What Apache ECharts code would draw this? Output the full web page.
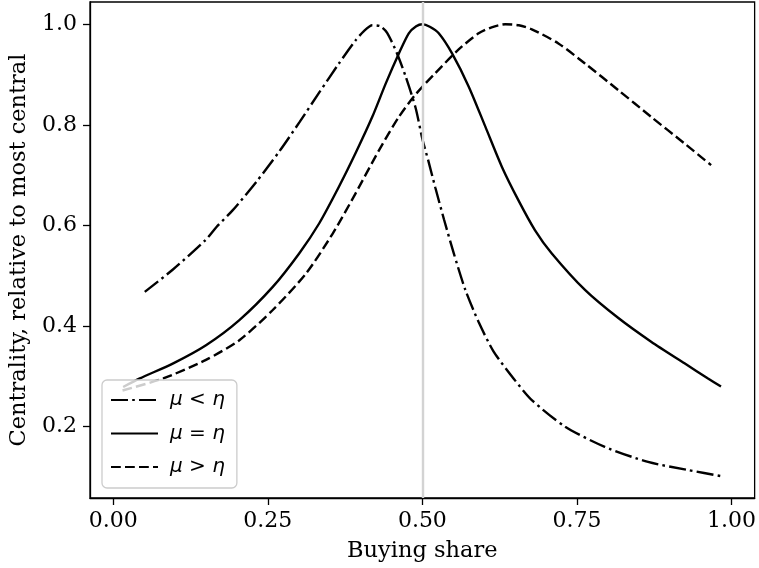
<!DOCTYPE html>
<html>
<head>
<meta charset="utf-8">
<script src="https://cdn.jsdelivr.net/npm/echarts@6/dist/echarts.min.js"></script>
<style>html,body{margin:0;padding:0;background:#fff;}#c{width:759px;height:568px;}</style>
</head>
<body>
<div id="c"></div>
<script>
// ---- data ----
const seriesNames = ['\u03bc < \u03b7', '\u03bc = \u03b7', '\u03bc > \u03b7'];

const lessX = [0.051,0.097,0.150,0.167,0.193,0.231,0.269,0.301,0.333,0.365,0.392,0.405,0.419,0.432,0.443,0.459,0.473,0.489,0.500,0.510,0.521,0.535,0.5507,0.5695,0.591,0.615,0.6474,0.677,0.731,0.795,0.865,0.929,0.987];
const lessY = [0.468,0.513,0.572,0.597,0.630,0.686,0.748,0.805,0.864,0.922,0.968,0.986,0.998,0.996,0.983,0.942,0.896,0.834,0.772,0.727,0.675,0.612,0.545,0.472,0.408,0.350,0.296,0.253,0.200,0.160,0.130,0.114,0.101];

const equalX = [0.016,0.043,0.097,0.150,0.204,0.258,0.301,0.333,0.365,0.392,0.419,0.441,0.462,0.478,0.490,0.500,0.512,0.5265,0.548,0.575,0.602,0.6285,0.655,0.682,0.709,0.763,0.817,0.870,0.924,0.962,0.983];
const equalY = [0.279,0.296,0.326,0.362,0.412,0.478,0.545,0.604,0.677,0.744,0.816,0.883,0.942,0.982,0.996,1.000,0.995,0.982,0.942,0.876,0.796,0.717,0.651,0.591,0.545,0.472,0.416,0.369,0.326,0.296,0.280];

const greaterX = [0.015,0.081,0.150,0.204,0.258,0.312,0.355,0.392,0.430,0.462,0.490,0.521,0.5587,0.591,0.612,0.634,0.656,0.677,0.720,0.763,0.817,0.870,0.924,0.967];
const greaterY = [0.272,0.296,0.333,0.372,0.432,0.505,0.584,0.664,0.750,0.816,0.862,0.903,0.950,0.982,0.994,1.000,0.998,0.990,0.962,0.922,0.869,0.816,0.763,0.720];

const xTicks = [0, 0.25, 0.5, 0.75, 1.0];
const yTicks = [0.2, 0.4, 0.6, 0.8, 1.0];
const dividerX = 0.5;

const xLabel = 'Buying share';
const yLabel = 'Centrality, relative to most central';

// ---- build ----
function pairs(xs, ys) { return xs.map((x, i) => [x, ys[i]]); }

const serif = 'DejaVu Serif';
const chart = echarts.init(document.getElementById('c'), null, {renderer: 'canvas'});

const lineCommon = {
  type: 'line', symbol: 'none', smooth: 0.25, silent: true, z: 3,
  emphasis: {disabled: true}
};

const axisLineStyle = {show: true, onZero: false, lineStyle: {color: '#000', width: 1.3}};

const option = {
  animation: false,
  backgroundColor: '#fff',
  grid: {left: 90, right: 2, top: 2, bottom: 70, show: true, borderColor: '#000', borderWidth: 1.3, backgroundColor: 'transparent'},
  xAxis: {
    type: 'value', min: -0.0376, max: 1.0374,
    name: xLabel, nameLocation: 'middle', nameGap: 42,
    nameTextStyle: {fontFamily: serif, fontSize: 22.5, color: '#000'},
    axisLine: axisLineStyle,
    splitLine: {show: false},
    axisTick: {show: true, length: 7, inside: false, lineStyle: {color: '#000', width: 1.3}, customValues: xTicks},
    axisLabel: {customValues: xTicks, margin: 12, fontFamily: serif, fontSize: 22, color: '#000',
      formatter: v => v.toFixed(2)}
  },
  yAxis: {
    type: 'value', min: 0.0583, max: 1.0443,
    name: yLabel, nameLocation: 'middle', nameGap: 56, nameRotate: 90,
    nameTextStyle: {fontFamily: serif, fontSize: 22.5, color: '#000'},
    axisLine: axisLineStyle,
    splitLine: {show: false},
    axisTick: {show: true, length: 7, inside: false, lineStyle: {color: '#000', width: 1.3}, customValues: yTicks},
    axisLabel: {customValues: yTicks, margin: 13, fontFamily: serif, fontSize: 22, color: '#000',
      formatter: v => v.toFixed(1)}
  },
  legend: {
    data: seriesNames,
    orient: 'vertical',
    left: 102, top: 380,
    padding: [10, 12, 11, 8],
    itemWidth: 47, itemHeight: 20, itemGap: 13.5,
    backgroundColor: 'rgba(255,255,255,0.8)',
    borderColor: '#cccccc', borderWidth: 1.3, borderRadius: 5,
    selectedMode: false,
    itemStyle: {opacity: 0},
    formatter: function (name) {
      const parts = name.split(' ');
      return '{i|' + parts[0] + '} ' + parts[1] + ' {i|' + parts[2] + '}';
    },
    textStyle: {
      fontFamily: 'DejaVu Sans', fontSize: 20, color: '#000', padding: [0,0,0,7],
      rich: {i: {fontFamily: 'DejaVu Sans', fontStyle: 'italic', fontSize: 20, color: '#000'}}
    }
  },
  series: [
    {
      name: 'divider', type: 'line', data: [], silent: true, z: 1,
      markLine: {
        silent: true, symbol: ['none', 'none'], label: {show: false},
        lineStyle: {color: '#d3d3d3', width: 2.4, type: 'solid'},
        emphasis: {disabled: true},
        data: [{xAxis: dividerX}]
      }
    },
    Object.assign({}, lineCommon, {
      name: seriesNames[0], data: pairs(lessX, lessY),
      lineStyle: {color: '#000', width: 2.4, type: [17, 4.2, 2.6, 4.2], cap: 'butt'},
      itemStyle: {color: '#000'}
    }),
    Object.assign({}, lineCommon, {
      name: seriesNames[1], data: pairs(equalX, equalY),
      lineStyle: {color: '#000', width: 2.4, type: 'solid'},
      itemStyle: {color: '#000'}
    }),
    Object.assign({}, lineCommon, {
      name: seriesNames[2], data: pairs(greaterX, greaterY),
      lineStyle: {color: '#000', width: 2.4, type: [9.8, 4.2], cap: 'butt'},
      itemStyle: {color: '#000'}
    })
  ]
};
chart.setOption(option);
</script>
</body>
</html>
